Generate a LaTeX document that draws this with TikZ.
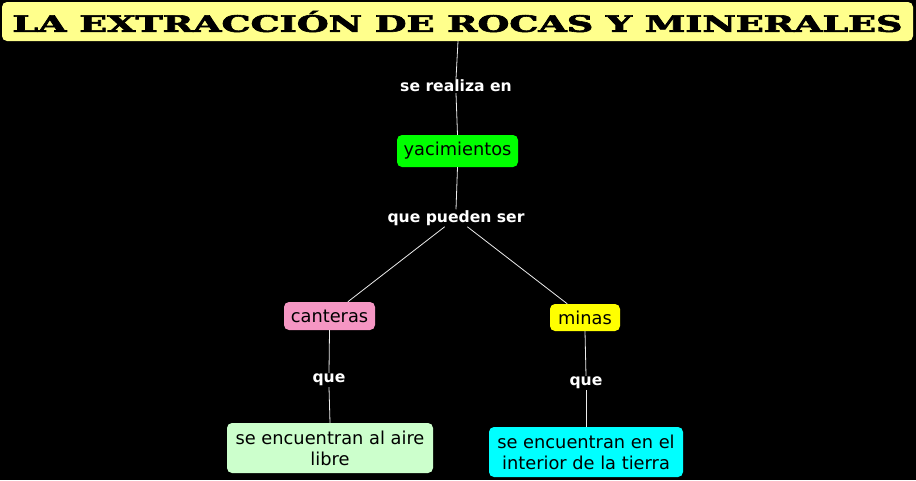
\documentclass[tikz,border=0pt]{standalone}
\usepackage{fontspec}
\setmainfont{DejaVu Sans}
\newfontfamily\titlefont[FakeBold=2.5]{DejaVu Serif}
\usepackage{tikz}
\usetikzlibrary{positioning}
\definecolor{titlebg}{RGB}{255,255,140}
\definecolor{greenbox}{RGB}{0,255,0}
\definecolor{pinkbox}{RGB}{245,150,195}
\definecolor{yellowbox}{RGB}{255,255,0}
\definecolor{mintbox}{RGB}{204,255,204}
\definecolor{cyanbox}{RGB}{0,255,255}

\begin{document}
\begin{tikzpicture}[x=1pt, y=-1pt,
    concept/.style={rounded corners=5pt, inner sep=0pt, font=\fontsize{17.8}{21}\selectfont, text=black, align=center},
    link/.style={font=\bfseries\fontsize{15.6}{18}\selectfont, text=white, inner sep=1pt},
    wire/.style={draw=white!85!gray, line width=0.8pt}]
  % background
  \fill[black] (0,0) rectangle (916,480);
  \useasboundingbox (0,0) rectangle (916,480);
  % title
  \node[concept, fill=titlebg, minimum width=911pt, minimum height=39pt] (title) at (457.5,21.5)
    {\resizebox{890pt}{21pt}{\titlefont\bfseries LA\ EXTRACCIÓN\ DE\ ROCAS\ Y\ MINERALES}};
  % concepts
  \node[concept, fill=greenbox, minimum width=121pt, minimum height=32pt] (yac) at (457.5,151) {yacimientos};
  \node[concept, fill=pinkbox, minimum width=91pt, minimum height=28pt] (can) at (329.5,316) {canteras};
  \node[concept, fill=yellowbox, minimum width=70pt, minimum height=27pt] (min) at (585,317.5) {minas};
  \node[concept, fill=mintbox, minimum width=206pt, minimum height=50pt] (aire) at (330,448) {se encuentran al aire\\libre};
  \node[concept, fill=cyanbox, minimum width=194pt, minimum height=50pt] (tierra) at (586,452) {se encuentran en el\\interior de la tierra};
  % linking phrases
  \node[link] (l1) at (456,86) {se realiza en};
  \node[link] (l2) at (456,218) {que pueden ser};
  \node[link] (l3) at (329,380) {que};
  \node[link] (l4) at (586,383) {que};
  % connectors
  \draw[wire] (title.south -| l1) ++(2,0) -- (l1.north);
  \draw[wire] (l1.south) -- (yac.north);
  \draw[wire] (yac.south) -- (l2.north);
  \draw[wire] (l2) -- (can);
  \draw[wire] (l2) -- (min);
  \draw[wire] (can.south) -- (l3.north);
  \draw[wire] (l3.south) -- (aire.north);
  \draw[wire] (min.south) -- (l4.north);
  \draw[wire] (l4.south) -- (tierra.north);
\end{tikzpicture}
\end{document}
